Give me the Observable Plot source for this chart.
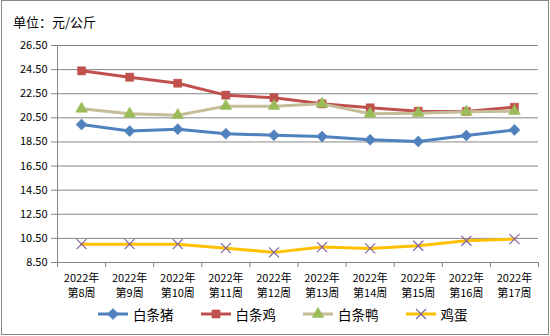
<!DOCTYPE html>
<html>
<head>
<meta charset="utf-8">
<script src="https://cdn.jsdelivr.net/npm/d3@7"></script>
<script src="https://cdn.jsdelivr.net/npm/@observablehq/plot@0.6"></script>
<style>
  html, body { margin: 0; padding: 0; background: #fff; }
  #wrap { position: relative; width: 550px; height: 336px; font-family: "Noto Sans CJK SC", "Noto Sans", sans-serif; }
  #frame { position: absolute; left: 1px; top: 0; width: 548px; height: 335px; box-sizing: border-box; border: 1px solid #868686; pointer-events: none; }
  #title { position: absolute; left: 13px; top: 14px; font-size: 13px; line-height: 16px; color: #000; }
  #chart { position: absolute; left: 0; top: 0; }
  #legend { position: absolute; left: 98px; top: 305px; display: flex; gap: 27px; align-items: center; font-size: 13.5px; line-height: 18px; color: #000; }
  .item { display: flex; align-items: center; gap: 5px; }
  .item svg { display: block; }
</style>
</head>
<body>
<div id="wrap">
  <div id="chart"></div>
  <div id="title">单位：元/公斤</div>
  <div id="legend"></div>
  <div id="frame"></div>
</div>
<script>
const years = ["2022年","2022年","2022年","2022年","2022年","2022年","2022年","2022年","2022年","2022年"];
const weeks = ["第8周","第9周","第10周","第11周","第12周","第13周","第14周","第15周","第16周","第17周"];
const pig     = [19.95, 19.40, 19.56, 19.18, 19.06, 18.95, 18.68, 18.54, 19.04, 19.50];
const chicken = [24.40, 23.87, 23.37, 22.38, 22.16, 21.66, 21.33, 21.05, 21.03, 21.38];
const duck    = [21.25, 20.84, 20.72, 21.47, 21.47, 21.66, 20.84, 20.89, 21.00, 21.05];
const egg     = [10.02, 10.02, 10.02, 9.69, 9.34, 9.78, 9.67, 9.89, 10.30, 10.44];
const yTicks  = [8.5, 10.5, 12.5, 14.5, 16.5, 18.5, 20.5, 22.5, 24.5, 26.5];
const seriesNames = ["白条猪", "白条鸡", "白条鸭", "鸡蛋"];

const series = [
  {name: seriesNames[0], values: pig,     line: "#4F81BD", mark: "#4F81BD", symbol: "diamond2", r: 5.0, fillMark: true},
  {name: seriesNames[1], values: chicken, line: "#C0504D", mark: "#C0504D", symbol: "square",   r: 4.6, fillMark: true},
  {name: seriesNames[2], values: duck,    line: "#C4BD97", mark: "#9BBB59", symbol: "triangle", r: 4.4, fillMark: true},
  {name: seriesNames[3], values: egg,     line: "#FFC000", mark: "#8064A2", symbol: "times",    r: 4.6, fillMark: false}
];

const marks = [
  Plot.ruleY(yTicks, {stroke: "#868686", strokeWidth: 1}),
  Plot.ruleX([0], {stroke: "#868686", strokeWidth: 1}),
  Plot.axisY({ticks: yTicks, tickFormat: d => d.toFixed(2), tickSize: 6, tickPadding: 4, stroke: "#868686", label: null, fontSize: 11}),
  Plot.axisX({ticks: d3.range(11), tickFormat: () => "", tickSize: 5, stroke: "#868686", label: null}),
  Plot.text(weeks, {x: (d, i) => i + 0.5, frameAnchor: "bottom", text: (d, i) => years[i] + "\n" + d, lineAnchor: "top", dy: 9, lineHeight: 1.35, fontSize: 11, fill: "#000"})
];

for (const s of series) {
  const data = s.values.map((v, i) => ({i, v}));
  marks.push(Plot.line(data, {x: d => d.i + 0.5, y: "v", stroke: s.line, strokeWidth: 3, strokeLinejoin: "round"}));
  if (s.fillMark) {
    marks.push(Plot.dot(data, {x: d => d.i + 0.5, y: "v", symbol: s.symbol, r: s.r, fill: s.mark, stroke: s.mark, strokeWidth: 0.5}));
  } else {
    marks.push(Plot.dot(data, {x: d => d.i + 0.5, y: "v", symbol: s.symbol, r: s.r, stroke: s.mark, strokeWidth: 1.2}));
  }
}

const chart = Plot.plot({
  width: 550,
  height: 300,
  marginLeft: 57,
  marginRight: 12,
  marginTop: 45,
  marginBottom: 38,
  x: {type: "linear", domain: [0, 10]},
  y: {domain: [8.5, 26.5]},
  style: {fontFamily: "'Noto Sans CJK SC', 'Noto Sans', sans-serif", fontSize: "11px", color: "#000", background: "transparent", overflow: "visible"},
  marks
});
document.getElementById("chart").appendChild(chart);

// legend
const legend = document.getElementById("legend");
const symbolPaths = {
  diamond2: d3.symbol(d3.symbolDiamond2, 80)(),
  square: d3.symbol(d3.symbolSquare, 66)(),
  triangle: d3.symbol(d3.symbolTriangle, 60)(),
  times: d3.symbol(d3.symbolTimes, 66)()
};
for (const s of series) {
  const item = document.createElement("div");
  item.className = "item";
  const markAttr = s.fillMark
    ? `fill="${s.mark}" stroke="${s.mark}" stroke-width="0.5"`
    : `fill="none" stroke="${s.mark}" stroke-width="1.2"`;
  item.innerHTML = `<svg width="30" height="14" viewBox="0 0 30 14">
      <line x1="0" x2="30" y1="7" y2="7" stroke="${s.line}" stroke-width="3"/>
      <path transform="translate(15,7)" d="${symbolPaths[s.symbol]}" ${markAttr}/>
    </svg><span>${s.name}</span>`;
  legend.appendChild(item);
}
</script>
</body>
</html>
